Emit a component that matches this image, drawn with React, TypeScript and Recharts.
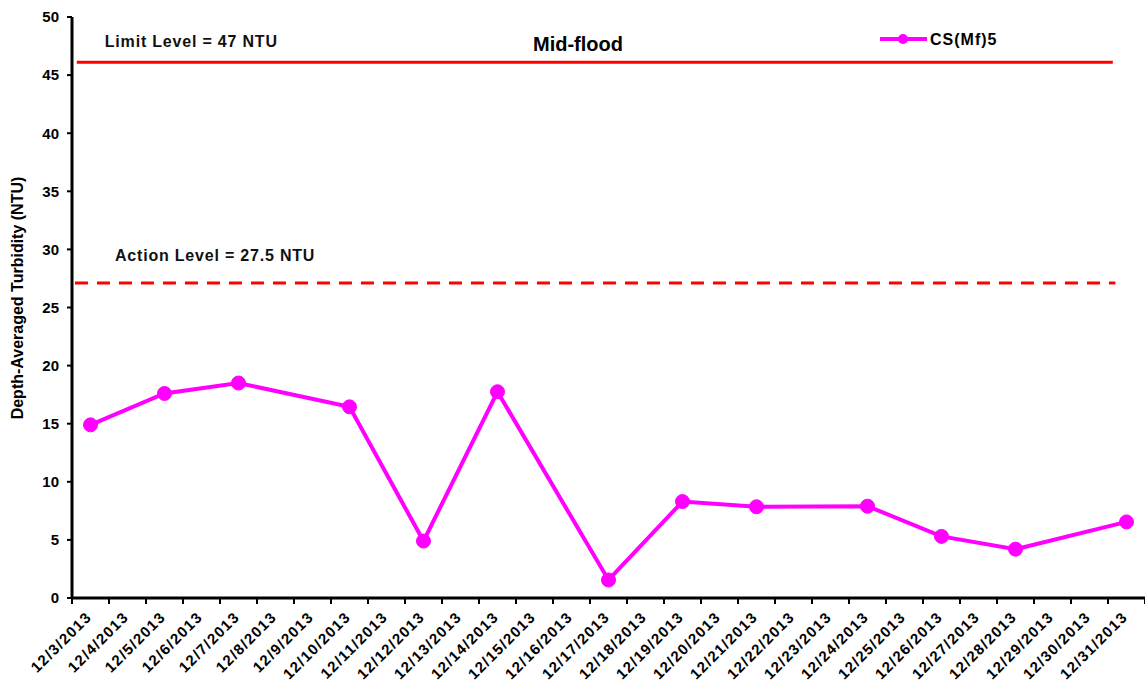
import React from 'react'
import { LineChart, Line, XAxis, YAxis, ReferenceLine } from 'recharts'

// Sampling dates (category axis) and depth-averaged turbidity readings (NTU)
const dates = [
  '12/3/2013', '12/4/2013', '12/5/2013', '12/6/2013', '12/7/2013', '12/8/2013', '12/9/2013',
  '12/10/2013', '12/11/2013', '12/12/2013', '12/13/2013', '12/14/2013', '12/15/2013', '12/16/2013',
  '12/17/2013', '12/18/2013', '12/19/2013', '12/20/2013', '12/21/2013', '12/22/2013', '12/23/2013',
  '12/24/2013', '12/25/2013', '12/26/2013', '12/27/2013', '12/28/2013', '12/29/2013', '12/30/2013',
  '12/31/2013',
]
const csMf5 = [
  14.9, null, 17.6, null, 18.5, null, null, 16.45, null, 4.9, null, 17.75, null, null,
  1.55, null, 8.3, null, 7.85, null, null, 7.9, null, 5.3, null, 4.2, null, null, 6.55,
]
const yTicks = [0, 5, 10, 15, 20, 25, 30, 35, 40, 45, 50]

// levels and their extent along the date axis, as drawn in the original
const limitLevel = 46.1
const limitSpan = [0.13, 28.13]
const actionLevel = 27.1
const actionSpan = [0.08, 28.2]

const MAGENTA = '#ff00ff'
const RED = '#ff0000'
const FONT = 'Liberation Sans, Arial, sans-serif'

// Excel-style category axis: each date sits in the middle of its slot,
// tick marks fall on the slot boundaries
const data = dates.map((d, i) => ({ pos: i + 0.5, date: d, value: csMf5[i] }))
const xTicks: number[] = []
for (let i = 0; i <= dates.length; i++) {
  xTicks.push(i)
  if (i < dates.length) xTicks.push(i + 0.5)
}

// eslint-disable-next-line @typescript-eslint/no-explicit-any
function DateTick({ x, y, payload }: any) {
  const v = payload.value as number
  if (Number.isInteger(v)) {
    return <line x1={x} x2={x} y1={y} y2={y + 6} stroke="#000" strokeWidth={2} />
  }
  const ax = x + 2
  const ay = y + 20
  return (
    <text
      x={ax}
      y={ay}
      transform={`rotate(-45, ${ax}, ${ay})`}
      textAnchor="end"
      fontFamily={FONT}
      fontWeight="bold"
      fontSize={15}
      letterSpacing={1.3}
      fill="#000"
    >
      {dates[Math.floor(v)]}
    </text>
  )
}

// eslint-disable-next-line @typescript-eslint/no-explicit-any
const levelLabel = (text: string, dx: number, dy: number) => (props: any) => {
  const vb = props.viewBox
  return (
    <text
      x={vb.x + dx}
      y={vb.y + dy}
      fontFamily={FONT}
      fontWeight="bold"
      fontSize={16}
      letterSpacing={0.8}
      fill="#111"
    >
      {text}
    </text>
  )
}

export default function App() {
  return (
    <div style={{ position: 'absolute', left: 0, top: 0, width: 1145, height: 682, background: '#fff', fontFamily: FONT }}>
      <LineChart width={1145} height={682} data={data} margin={{ top: 17, right: 0, bottom: 0, left: 0 }}>
        <XAxis
          dataKey="pos"
          type="number"
          domain={[0, dates.length]}
          ticks={xTicks}
          interval={0}
          height={84}
          tick={<DateTick />}
          tickSize={0}
          tickMargin={0}
          tickLine={false}
          axisLine={{ stroke: '#000', strokeWidth: 3 }}
        />
        <YAxis
          domain={[0, 50]}
          ticks={yTicks}
          width={72}
          tickSize={5}
          tickMargin={8}
          axisLine={{ stroke: '#000', strokeWidth: 3 }}
          tickLine={{ stroke: '#000', strokeWidth: 2 }}
          tick={{ fontFamily: FONT, fontWeight: 'bold', fontSize: 15, fill: '#000' }}
        />
        <ReferenceLine
          segment={[{ x: limitSpan[0], y: limitLevel }, { x: limitSpan[1], y: limitLevel }]}
          stroke={RED}
          strokeWidth={3}
          label={levelLabel('Limit Level  = 47 NTU', 28, -15)}
        />
        <ReferenceLine
          segment={[{ x: actionSpan[0], y: actionLevel }, { x: actionSpan[1], y: actionLevel }]}
          stroke={RED}
          strokeWidth={3}
          strokeDasharray="13 9"
          label={levelLabel('Action Level = 27.5 NTU', 40, -22)}
        />
        <Line
          type="linear"
          dataKey="value"
          name="CS(Mf)5"
          stroke={MAGENTA}
          strokeWidth={4}
          connectNulls
          dot={{ r: 7, fill: MAGENTA, stroke: MAGENTA, strokeWidth: 1 }}
          activeDot={false}
          isAnimationActive={false}
        />
      </LineChart>
      {/* legend */}
      <svg width={130} height={24} style={{ position: 'absolute', left: 878, top: 27 }}>
        <line x1={2} y1={12} x2={49} y2={12} stroke={MAGENTA} strokeWidth={4} />
        <circle cx={25} cy={12} r={5} fill={MAGENTA} />
        <text x={52} y={18} fontFamily={FONT} fontWeight="bold" fontSize={16} letterSpacing={1} fill="#000">
          CS(Mf)5
        </text>
      </svg>
      <div
        style={{
          position: 'absolute', left: 478, top: 33, width: 200, textAlign: 'center',
          fontWeight: 'bold', fontSize: 20, color: '#000', pointerEvents: 'none',
        }}
      >
        Mid-flood
      </div>
      <div
        style={{
          position: 'absolute', left: 18, top: 298, width: 300, marginLeft: -150, marginTop: -10,
          height: 20, lineHeight: '20px', textAlign: 'center', transform: 'rotate(-90deg)',
          fontWeight: 'bold', fontSize: 16, color: '#000', whiteSpace: 'nowrap',
        }}
      >
        Depth-Averaged Turbidity (NTU)
      </div>
    </div>
  )
}
